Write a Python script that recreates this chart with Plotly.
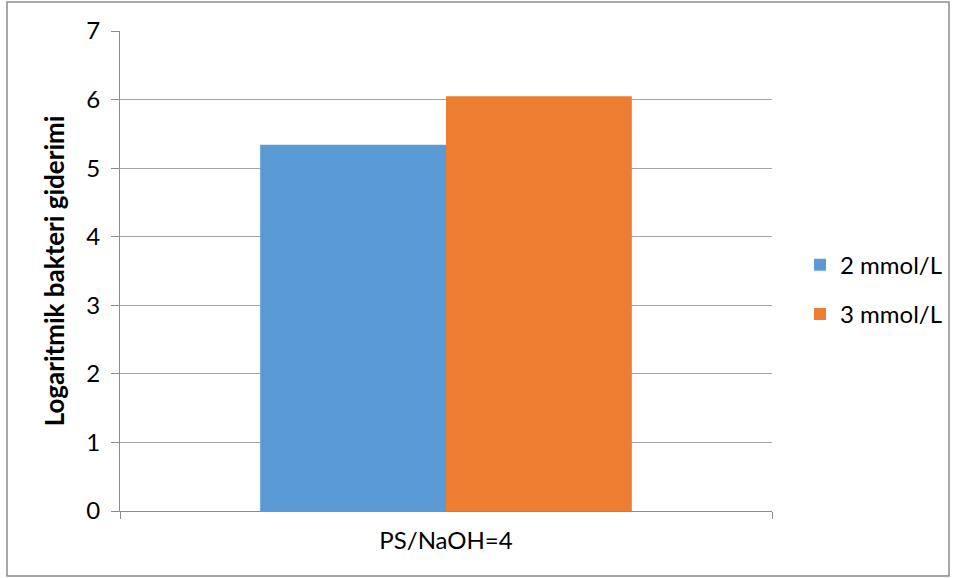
import plotly.graph_objects as go

categories = ["PS/NaOH=4"]
series_names = ["2 mmol/L", "3 mmol/L"]
values_2 = [5.34]
values_3 = [6.05]
colors = ["#5B9BD5", "#ED7D31"]
y_ticks = [0, 1, 2, 3, 4, 5, 6, 7]

FONT = "Lato"

fig = go.Figure()
for name, vals, col in zip(series_names, [values_2, values_3], colors):
    fig.add_trace(go.Bar(x=categories, y=vals, name=name, marker_color=col,
                         marker_line_width=0, legendgroup=name))

fig.update_layout(
    width=957, height=578,
    margin=dict(l=120, r=185, t=31, b=67, autoexpand=False),
    paper_bgcolor="white", plot_bgcolor="white",
    barmode="group", bargap=0.43, bargroupgap=0,
    font=dict(family=FONT, color="black", size=24),
    legend=dict(x=1.043, xanchor="left", y=0.461, yanchor="middle",
                font=dict(size=24, family=FONT), tracegroupgap=15,
                itemwidth=30, bgcolor="rgba(0,0,0,0)", borderwidth=0),
    showlegend=True,
)
fig.update_yaxes(range=[0, 7], tickvals=y_ticks, showgrid=True, gridcolor="#A6A6A6",
                 gridwidth=1, showline=True, linecolor="#8C8C8C", linewidth=1,
                 ticks="outside", ticklen=8, tickcolor="#8C8C8C",
                 tickfont=dict(size=24, family=FONT), zeroline=False,
                 ticklabelstandoff=6,
                 title=dict(text="<b>Logaritmik bakteri giderimi</b>",
                            font=dict(size=26, family=FONT), standoff=14))
fig.update_xaxes(showline=True, linecolor="#8C8C8C", linewidth=1,
                 ticks="outside", ticklen=7, tickcolor="#8C8C8C", tickson="boundaries",
                 tickfont=dict(size=24, family=FONT), ticklabelstandoff=8)

fig.add_shape(type="rect", xref="paper", yref="paper",
              x0=(7 - 120) / 652, x1=(949 - 120) / 652,
              y0=(511 - 576) / 480, y1=(511 - 2) / 480,
              line=dict(color="#8C8C8C", width=1.5), fillcolor="rgba(0,0,0,0)",
              layer="below")

fig.write_html("out.html", config={"displayModeBar": False},
               post_script="document.body.style.margin='0';")
